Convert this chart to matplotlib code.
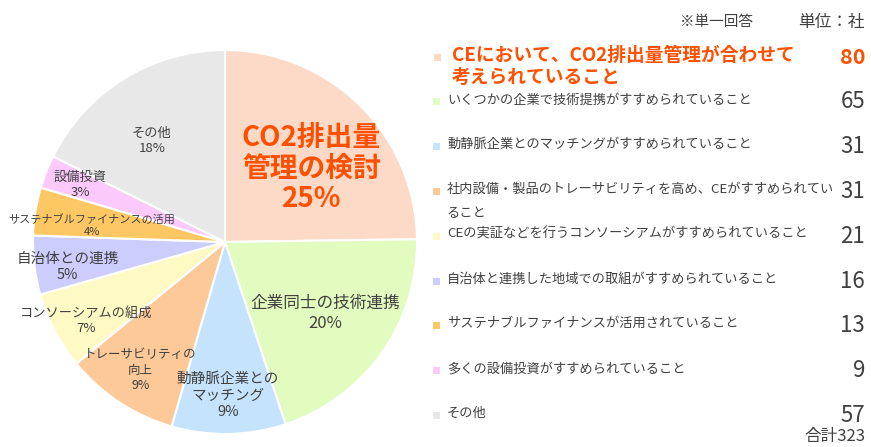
import numpy as np
import matplotlib
matplotlib.use('Agg')
import matplotlib.pyplot as plt

plt.rcParams['font.family'] = ['Noto Sans CJK JP', 'DejaVu Sans']

# データ（単位：社）
legend_labels = [
    'CEにおいて、CO2排出量管理が合わせて\n考えられていること',
    'いくつかの企業で技術提携がすすめられていること',
    '動静脈企業とのマッチングがすすめられていること',
    '社内設備・製品のトレーサビリティを高め、CEがすすめられてい\nること',
    'CEの実証などを行うコンソーシアムがすすめられていること',
    '自治体と連携した地域での取組がすすめられていること',
    'サステナブルファイナンスが活用されていること',
    '多くの設備投資がすすめられていること',
    'その他',
]
pie_labels = [
    'CO2排出量\n管理の検討',
    '企業同士の技術連携',
    '動静脈企業との\nマッチング',
    'トレーサビリティの\n向上',
    'コンソーシアムの組成',
    '自治体との連携',
    'サステナブルファイナンスの活用',
    '設備投資',
    'その他',
]
counts = [80, 65, 31, 31, 21, 16, 13, 9, 57]
# 図中の表示割合(%)
pct_labels = [25, 20, 9, 9, 7, 5, 4, 3, 18]

colors = ['#FDD9C8', '#E2FBBF', '#C5E3FD', '#FDC998', '#FFF9C4',
          '#CCCCFD', '#FDC864', '#FCC9FB', '#E8E8E8']
RED = '#FF5000'
GREY = '#404040'

# ラベル位置（半径比・角度補正）と文字サイズ
label_r = [0.59, 0.64, 0.80, 0.80, 0.83, 0.83, 0.70, 0.81, 0.65]
label_da = [-5, 0, 0, 0, 2, 2, 2, 0, 4]
label_fs = [20, 12, 10.5, 9, 9.5, 10.5, 8, 9.5, 9.5]

W, H = 871, 447
fig = plt.figure(figsize=(W / 100, H / 100), dpi=100)

# 円グラフ
cx, cy, R = 225, 242, 192
ax = fig.add_axes([(cx - R) / W, (H - cy - R) / H, 2 * R / W, 2 * R / H])
wedges, _ = ax.pie(counts, colors=colors, startangle=90, counterclock=False,
                   wedgeprops=dict(edgecolor='white', linewidth=1.5))
ax.set_xlim(-1, 1)
ax.set_ylim(-1, 1)
ax.set_aspect('equal')
ax.axis('off')

total = sum(counts)
for i, w in enumerate(wedges):
    ang = np.deg2rad((w.theta1 + w.theta2) / 2 + label_da[i])
    x, y = label_r[i] * np.cos(ang), label_r[i] * np.sin(ang)
    txt = pie_labels[i] + '\n' + f'{pct_labels[i]}%'
    if i == 0:
        ax.text(x, y, txt, ha='center', va='center', fontsize=label_fs[i],
                fontweight='bold', color=RED, linespacing=1.1)
    else:
        ax.text(x, y, txt, ha='center', va='center', fontsize=label_fs[i],
                color=GREY, linespacing=1.25)

# 凡例
lg = fig.add_axes([0, 0, 1, 1])
lg.set_xlim(0, W)
lg.set_ylim(H, 0)
lg.axis('off')

lg.text(753, 22, '※単一回答', ha='right', va='center', fontsize=10.5, color=GREY)
lg.text(865, 22, '単位：社', ha='right', va='center', fontsize=12, color=GREY)

for i, (lab, n) in enumerate(zip(legend_labels, counts)):
    y = 57 + i * 44.8
    if i == 0:
        lg.add_patch(plt.Rectangle((434, y - 3.5), 7, 7, color=colors[i], lw=0))
        lg.text(452, y - 11, lab, ha='left', va='top', fontsize=13.5,
                fontweight='bold', color=RED, linespacing=1.2)
        lg.text(865, y, str(n), ha='right', va='center', fontsize=15.5,
                fontweight='bold', color=RED)
    else:
        lg.add_patch(plt.Rectangle((433, y - 3.5), 7, 7, color=colors[i], lw=0))
        lg.text(447, y - 8.5, lab, ha='left', va='top', fontsize=9.5,
                color=GREY, linespacing=2.1)
        lg.text(865, y, str(n), ha='right', va='center', fontsize=16,
                color=GREY)

lg.text(865, 437, f'合計{total}', ha='right', va='center', fontsize=12,
        color=GREY)

fig.savefig('out.png', dpi=100)
